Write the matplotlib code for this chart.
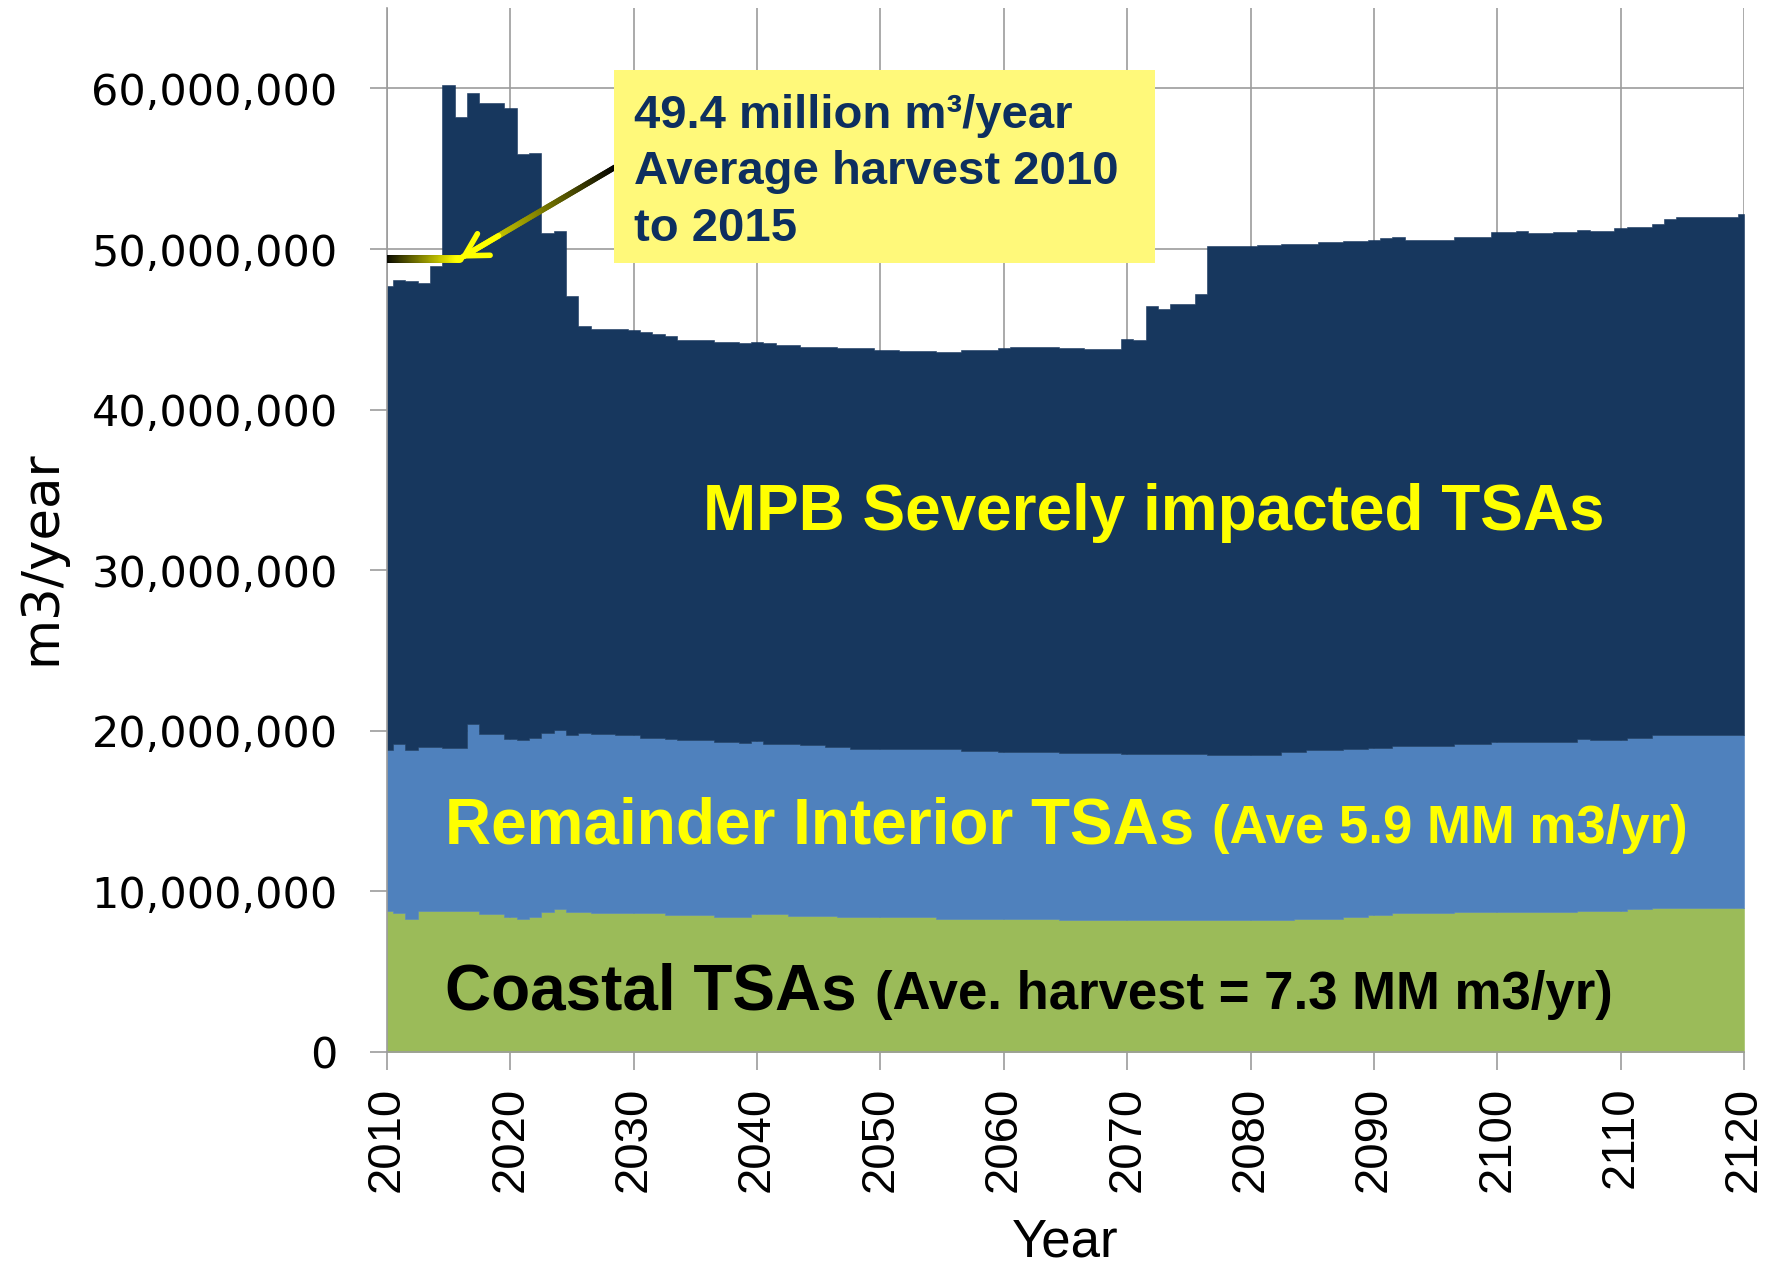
import numpy as np
import matplotlib
matplotlib.use("Agg")
import matplotlib.pyplot as plt
from matplotlib.collections import LineCollection
from matplotlib.colors import LinearSegmentedColormap
from matplotlib.patches import Rectangle
from matplotlib.ticker import FuncFormatter, MultipleLocator

plt.rcParams['font.family'] = ['Liberation Sans', 'DejaVu Sans']

years = np.arange(2010, 2121)

# annual harvest by TSA group, million m3/year
coastal = [
    8.79, 8.67, 8.28, 8.79, 8.79, 8.79, 8.79, 8.79, 8.59, 8.59,
    8.42, 8.28, 8.42, 8.73, 8.88, 8.73, 8.73, 8.63, 8.63, 8.63,
    8.63, 8.63, 8.63, 8.53, 8.53, 8.53, 8.53, 8.42, 8.42, 8.42,
    8.57, 8.57, 8.57, 8.46, 8.46, 8.46, 8.46, 8.38, 8.38, 8.38,
    8.38, 8.38, 8.38, 8.38, 8.38, 8.28, 8.28, 8.28, 8.28, 8.28,
    8.28, 8.28, 8.28, 8.28, 8.28, 8.21, 8.21, 8.21, 8.21, 8.21,
    8.21, 8.21, 8.21, 8.21, 8.21, 8.21, 8.21, 8.21, 8.21, 8.21,
    8.21, 8.21, 8.21, 8.21, 8.28, 8.28, 8.28, 8.28, 8.42, 8.42,
    8.53, 8.53, 8.63, 8.63, 8.63, 8.63, 8.63, 8.69, 8.69, 8.69,
    8.73, 8.73, 8.73, 8.73, 8.73, 8.73, 8.73, 8.79, 8.79, 8.79,
    8.79, 8.88, 8.88, 8.98, 8.98, 8.98, 8.98, 8.98, 8.98, 8.98,
    8.98,
]
interior = [
    10.00, 10.54, 10.51, 10.21, 10.21, 10.17, 10.17, 11.66, 11.24, 11.24,
    11.10, 11.14, 11.16, 11.16, 11.16, 11.04, 11.16, 11.20, 11.20, 11.14,
    11.14, 10.95, 10.95, 10.99, 10.89, 10.89, 10.89, 10.89, 10.89, 10.83,
    10.78, 10.64, 10.64, 10.75, 10.64, 10.64, 10.54, 10.62, 10.52, 10.52,
    10.52, 10.52, 10.52, 10.52, 10.52, 10.62, 10.62, 10.47, 10.47, 10.47,
    10.41, 10.41, 10.41, 10.41, 10.41, 10.38, 10.38, 10.38, 10.38, 10.38,
    10.34, 10.34, 10.34, 10.34, 10.34, 10.34, 10.34, 10.27, 10.27, 10.27,
    10.27, 10.27, 10.27, 10.48, 10.41, 10.51, 10.51, 10.51, 10.43, 10.43,
    10.41, 10.41, 10.41, 10.41, 10.41, 10.41, 10.41, 10.48, 10.48, 10.48,
    10.58, 10.58, 10.58, 10.58, 10.58, 10.58, 10.58, 10.69, 10.63, 10.63,
    10.63, 10.68, 10.68, 10.79, 10.79, 10.79, 10.79, 10.79, 10.79, 10.79,
    10.79,
]
mpb = [
    28.90, 28.89, 29.21, 28.90, 29.93, 41.24, 39.24, 39.25, 39.27, 39.27,
    39.28, 36.48, 36.42, 31.11, 31.06, 27.33, 25.29, 25.20, 25.20, 25.26,
    25.16, 25.24, 25.14, 25.08, 24.89, 24.89, 24.89, 24.89, 24.89, 24.89,
    24.88, 24.93, 24.83, 24.83, 24.79, 24.79, 24.89, 24.83, 24.93, 24.93,
    24.83, 24.83, 24.74, 24.74, 24.74, 24.68, 24.68, 24.98, 24.98, 24.98,
    25.12, 25.20, 25.20, 25.20, 25.20, 25.24, 25.24, 25.16, 25.16, 25.16,
    25.82, 25.76, 27.89, 27.73, 28.04, 28.04, 28.62, 31.69, 31.69, 31.69,
    31.69, 31.78, 31.78, 31.63, 31.63, 31.53, 31.63, 31.63, 31.66, 31.66,
    31.63, 31.73, 31.70, 31.53, 31.53, 31.53, 31.53, 31.57, 31.57, 31.57,
    31.74, 31.74, 31.82, 31.70, 31.70, 31.76, 31.76, 31.73, 31.71, 31.71,
    31.86, 31.80, 31.80, 31.76, 32.09, 32.23, 32.23, 32.23, 32.23, 32.23,
    32.42,
]

avg_harvest = 49.4          # million m3/year
avg_period = (2010, 2015)

colors = ['#9BBB59', '#4F81BD', '#17375E']
grid_col = '#9C9C9C'
navy = '#0D2F5F'

fig = plt.figure(figsize=(17.67, 12.68), dpi=100)
ax = fig.add_axes([0.2190, 0.1703, 0.7680, 0.8233])

# stacked annual steps
base = np.zeros(len(years))
for vals, col in zip([coastal, interior, mpb], colors):
    top = base + np.array(vals) * 1e6
    ax.fill_between(years, base, top, step='mid', facecolor=col,
                    edgecolor=col, linewidth=0.4, zorder=1)
    base = top

ax.set_xlim(2010, 2120)
ax.set_ylim(0, 65e6)
ax.xaxis.set_major_locator(MultipleLocator(10))
ax.yaxis.set_major_locator(MultipleLocator(10e6))
ax.yaxis.set_major_formatter(FuncFormatter(lambda v, p: f'{v:,.0f}'))

ax.set_axisbelow(True)
ax.grid(True, color=grid_col, linewidth=1.2)
for side in ['top', 'right']:
    ax.spines[side].set_visible(False)
for side in ['left', 'bottom']:
    ax.spines[side].set_color(grid_col)
    ax.spines[side].set_linewidth(1.2)

ax.tick_params(axis='y', length=12.5, width=1.2, color=grid_col, pad=23,
               labelsize=31)
ax.tick_params(axis='x', length=13, width=1.2, color=grid_col, pad=12,
               labelsize=34, labelrotation=90)
for lbl in ax.get_yticklabels():
    lbl.set_family('DejaVu Sans')

ax.set_ylabel('m3/year', fontsize=37, family='DejaVu Sans')
ax.yaxis.set_label_coords(-0.236, 0.474)
ax.set_xlabel('Year', fontsize=38)
ax.xaxis.set_label_coords(0.5, -0.158)

# region labels
ax.text(2035.6, 32.5e6, 'MPB Severely impacted TSAs', fontsize=46,
        weight='bold', color='#FFFF00', va='baseline', zorder=4)
t_int = ax.text(2014.7, 13.0e6, 'Remainder Interior TSAs', fontsize=46,
                weight='bold', color='#FFFF00', va='baseline', zorder=4)
t_coa = ax.text(2014.7, 2.68e6, 'Coastal TSAs', fontsize=46,
                weight='bold', color='black', va='baseline', zorder=4)

fig.canvas.draw()
inv = ax.transData.inverted()
for big, small, col in [(t_int, '(Ave 5.9 MM m3/yr)', '#FFFF00'),
                        (t_coa, '(Ave. harvest = 7.3 MM m3/yr)', 'black')]:
    bb = big.get_window_extent()
    x_next = inv.transform((bb.x1 + 18, 0))[0]
    ax.text(x_next, big.get_position()[1], small, fontsize=38,
            weight='bold', color=col, va='baseline', zorder=4)

# average harvest marker and arrow, black fading to yellow
fade = LinearSegmentedColormap.from_list('fade', ['black', '#FFFF00'])


def fade_line(x0, y0, x1, y1, lw, n=80):
    xs = np.linspace(x0, x1, n + 1)
    ys = np.linspace(y0, y1, n + 1)
    pts = np.column_stack([xs, ys])
    segs = np.stack([pts[:-1], pts[1:]], axis=1)
    lc = LineCollection(segs, cmap=fade, linewidths=lw, capstyle='round',
                        zorder=5)
    lc.set_array(np.linspace(0, 1, n))
    ax.add_collection(lc)


tip = (avg_period[1] + 0.9, avg_harvest * 1e6)
fade_line(avg_period[0], avg_harvest * 1e6, tip[0], tip[1], lw=5.5)
start = (2028.5, 55.1e6)
fade_line(start[0], start[1], tip[0], tip[1], lw=4)
back = (tip[0] + 0.25 * (start[0] - tip[0]), tip[1] + 0.25 * (start[1] - tip[1]))
ax.annotate('', xy=tip, xytext=back,
            arrowprops=dict(arrowstyle='->,head_length=1.6,head_width=0.9',
                            color='#FFFF00', lw=4, shrinkA=0, shrinkB=0,
                            mutation_scale=10, capstyle='round'),
            zorder=6)

# note box
ax.add_patch(Rectangle((0.3475, 0.7926), 0.306, 0.1522,
                       transform=fig.transFigure, facecolor='#FFF97A',
                       edgecolor='none', zorder=7, clip_on=False))
note_lines = ['49.4 million m\u00b3/year', 'Average harvest 2010', 'to 2015']
for line, ypx in zip(note_lines, [128, 184, 241]):
    fig.text(0.3588, 1 - ypx / 1268, line, fontsize=34, weight='bold',
             color=navy, va='baseline', zorder=8)

fig.savefig('out.png', dpi=100)
